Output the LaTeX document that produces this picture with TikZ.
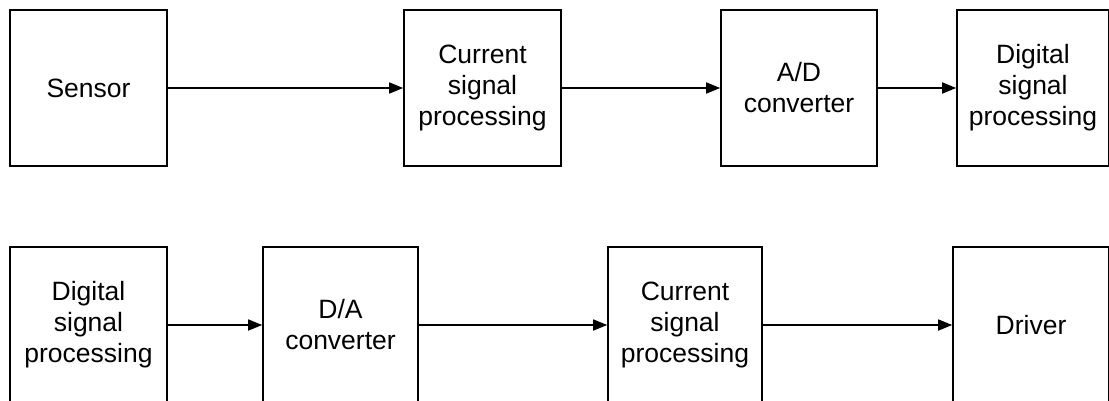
\documentclass[tikz,border=0pt]{standalone}
\usepackage{fontspec}
\setmainfont{Liberation Sans}
\usetikzlibrary{arrows.meta}
\begin{document}
\begin{tikzpicture}[x=1pt,y=1pt,
  blockbox/.style={draw=black,line width=1.6pt,minimum height=156pt,inner sep=0pt,align=center,
    font=\fontsize{26.5}{31}\selectfont},
  flow/.style={line width=1.6pt,-{Triangle[length=14pt,width=11pt]}}]
\useasboundingbox (0,0) rectangle (1109,400);
\clip (0,0) rectangle (1109,400);
% top row
\node[blockbox,minimum width=157pt] (sensor) at (88.5,312) {Sensor};
\node[blockbox,minimum width=157pt] (csp1) at (482.5,312) {Current\\signal\\processing};
\node[blockbox,minimum width=156pt] (adc) at (799,312) {A/D\\converter};
\node[blockbox,minimum width=152pt] (dsp1) at (1033,312) {Digital\\signal\\processing};
% bottom row
\node[blockbox,minimum width=157pt] (dsp2) at (88.5,75) {Digital\\signal\\processing};
\node[blockbox,minimum width=155pt] (dac) at (340.5,75) {D/A\\converter};
\node[blockbox,minimum width=154pt] (csp2) at (685,75) {Current\\signal\\processing};
\node[blockbox,minimum width=156pt] (driver) at (1031,75) {Driver};
% connectors
\draw[flow] (sensor.east) -- (csp1.west);
\draw[flow] (csp1.east) -- (adc.west);
\draw[flow] (adc.east) -- (dsp1.west);
\draw[flow] (dsp2.east) -- (dac.west);
\draw[flow] (dac.east) -- (csp2.west);
\draw[flow] (csp2.east) -- (driver.west);
\end{tikzpicture}
\end{document}
